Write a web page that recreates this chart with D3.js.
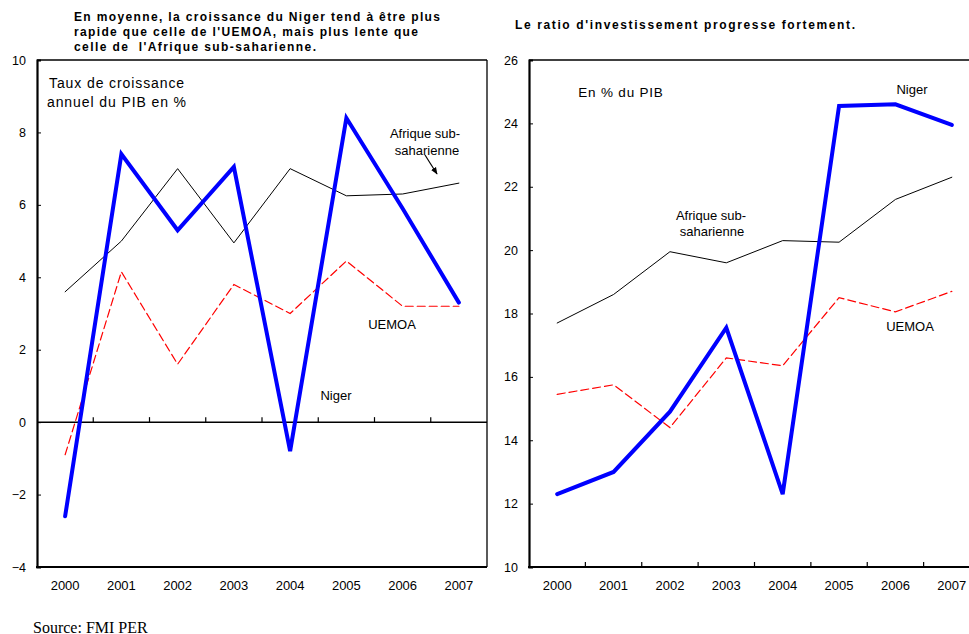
<!DOCTYPE html>
<html>
<head>
<meta charset="utf-8">
<script src="https://cdn.jsdelivr.net/npm/d3@7"></script>
<style>
  html, body { margin: 0; padding: 0; background: #fff; }
  svg { display: block; font-family: "Liberation Sans", Arial, sans-serif; }
  .tick text { font-family: "Liberation Sans", Arial, sans-serif; }
</style>
</head>
<body>
<svg id="chart" width="969" height="634"></svg>
<script>
// Years shared by both panels
const years = ["2000", "2001", "2002", "2003", "2004", "2005", "2006", "2007"];

// Panel 1: annual GDP growth (%)
const growthNiger   = [-2.6, 7.4, 5.3, 7.05, -0.8, 8.4, 5.9, 3.3];
const growthAfrique = [3.6, 5.0, 7.0, 4.95, 7.0, 6.25, 6.3, 6.6];
const growthUemoa   = [-0.9, 4.15, 1.6, 3.8, 3.0, 4.45, 3.2, 3.2];
const growthTicks   = [-4, -2, 0, 2, 4, 6, 8, 10];

// Panel 2: investment (% of GDP)
const investNiger   = [12.3, 13.0, 14.9, 17.55, 12.3, 24.55, 24.6, 23.95];
const investAfrique = [17.7, 18.6, 19.95, 19.6, 20.3, 20.25, 21.6, 22.3];
const investUemoa   = [15.45, 15.75, 14.4, 16.6, 16.35, 18.5, 18.05, 18.7];
const investTicks   = [10, 12, 14, 16, 18, 20, 22, 24, 26];

const svg = d3.select("#chart");

const styles = {
  niger:   { stroke: "#0000ff", width: 4, dash: null },
  afrique: { stroke: "#000000", width: 1, dash: null },
  uemoa:   { stroke: "#ff0000", width: 1.2, dash: "8,4" }
};

function panel(opts) {
  const g = svg.append("g");
  const x = d3.scaleBand().domain(years).range([opts.left, opts.right]).paddingInner(0).paddingOuter(0);
  const y = d3.scaleLinear().domain(opts.domain).range([567, 60]);
  const cx = d => x(d) + x.bandwidth() / 2;

  // frame: top (and right, where visible)
  g.append("line").attr("x1", opts.left).attr("x2", opts.right).attr("y1", 60).attr("y2", 60)
    .attr("stroke", "#000").attr("stroke-width", 1.3);
  if (opts.rightEdge) {
    g.append("line").attr("x1", opts.right).attr("x2", opts.right).attr("y1", 60).attr("y2", 567)
      .attr("stroke", "#000").attr("stroke-width", 1.3);
  }

  // y axis with inward ticks
  const ya = g.append("g").attr("transform", `translate(${opts.left},0)`)
    .call(d3.axisLeft(y).tickValues(opts.ticks).tickSize(-4).tickPadding(11).tickFormat(d3.format("d")));
  ya.select(".domain").attr("stroke-width", 2.2);
  ya.selectAll(".tick text").attr("font-size", 12.5).attr("fill", "#000");

  // bottom frame line
  g.append("line").attr("x1", opts.left - 1).attr("x2", opts.right).attr("y1", 567).attr("y2", 567)
    .attr("stroke", "#000").attr("stroke-width", 2.2);

  // category axis: line at baseline value with ticks on band boundaries
  const by = y(opts.base);
  g.append("line").attr("x1", opts.left).attr("x2", opts.right).attr("y1", by).attr("y2", by)
    .attr("stroke", "#000").attr("stroke-width", 1.5);
  g.selectAll(".bt").data(years.slice(1)).join("line")
    .attr("x1", d => x(d)).attr("x2", d => x(d))
    .attr("y1", by).attr("y2", by - 5)
    .attr("stroke", "#000").attr("stroke-width", 1.2);

  // year labels
  g.selectAll(".yl").data(years).join("text")
    .attr("x", cx).attr("y", 590)
    .attr("text-anchor", "middle").attr("font-size", 13).text(d => d);

  const line = d3.line().x((d, i) => cx(years[i])).y(d => y(d));
  // draw order: thin lines, dashed, then thick Niger line on top
  [["afrique", opts.afrique], ["uemoa", opts.uemoa], ["niger", opts.niger]].forEach(([k, vals]) => {
    const s = styles[k];
    g.append("path").datum(vals).attr("d", line)
      .attr("fill", "none").attr("stroke", s.stroke).attr("stroke-width", s.width)
      .attr("stroke-dasharray", s.dash).attr("stroke-linejoin", "miter").attr("stroke-linecap", "round");
  });
  return { g, x, y };
}

function label(x, y, txt, size, anchor, spacing) {
  svg.append("text").attr("x", x).attr("y", y).attr("font-size", size || 13.5)
    .attr("text-anchor", anchor || "start").attr("dominant-baseline", "central")
    .attr("letter-spacing", spacing || 0).text(txt);
}

panel({ left: 37, right: 487, domain: [-4, 10], ticks: growthTicks, base: 0, rightEdge: true,
        niger: growthNiger, afrique: growthAfrique, uemoa: growthUemoa });
panel({ left: 529, right: 980, domain: [10, 26], ticks: investTicks, base: 10, rightEdge: false,
        niger: investNiger, afrique: investAfrique, uemoa: investUemoa });

// titles
const titleLines = [
  ["En moyenne, la croissance du Niger tend à être plus", 74, 17, 366],
  ["rapide que celle de l'UEMOA, mais plus lente que", 74, 32, 344],
  ["celle de  l'Afrique sub-saharienne.", 74, 47, 242],
  ["Le ratio d'investissement progresse fortement.", 515, 25, 340]
];
titleLines.forEach(([t, x, y, w]) => {
  svg.append("text").attr("x", x).attr("y", y).attr("dominant-baseline", "central")
    .attr("font-size", 12).attr("font-weight", "bold")
    .attr("textLength", w).attr("lengthAdjust", "spacing")
    .style("white-space", "pre").text(t);
});

// panel 1 annotations
label(49, 83, "Taux de croissance", 14, "start", 0.9);
label(47, 102, "annuel du PIB en %", 14, "start", 0.9);
label(425, 133, "Afrique sub-", 13, "middle");
label(427, 150, "saharienne", 13, "middle");
label(392, 324, "UEMOA", 13, "middle");
label(336, 395, "Niger", 13, "middle");

// arrow pointing to the Afrique line
svg.append("defs").append("marker").attr("id", "ah").attr("viewBox", "0 0 10 10")
  .attr("refX", 9).attr("refY", 5).attr("markerWidth", 6).attr("markerHeight", 6)
  .attr("orient", "auto").append("path").attr("d", "M0,1 L10,5 L0,9 Z").attr("fill", "#000");
svg.append("line").attr("x1", 425).attr("y1", 155).attr("x2", 437).attr("y2", 174)
  .attr("stroke", "#000").attr("stroke-width", 1.2).attr("marker-end", "url(#ah)");

// panel 2 annotations
label(621, 92, "En % du PIB", 13.5, "middle", 0.8);
label(912, 89, "Niger", 13, "middle");
label(711, 215, "Afrique sub-", 13, "middle");
label(712, 231, "saharienne", 13, "middle");
label(910, 326, "UEMOA", 13, "middle");

// source note
svg.append("text").attr("x", 33).attr("y", 627).attr("dominant-baseline", "central")
  .attr("font-family", "'Liberation Serif', 'Times New Roman', serif").attr("font-size", 16)
  .text("Source: FMI PER");
</script>
</body>
</html>
